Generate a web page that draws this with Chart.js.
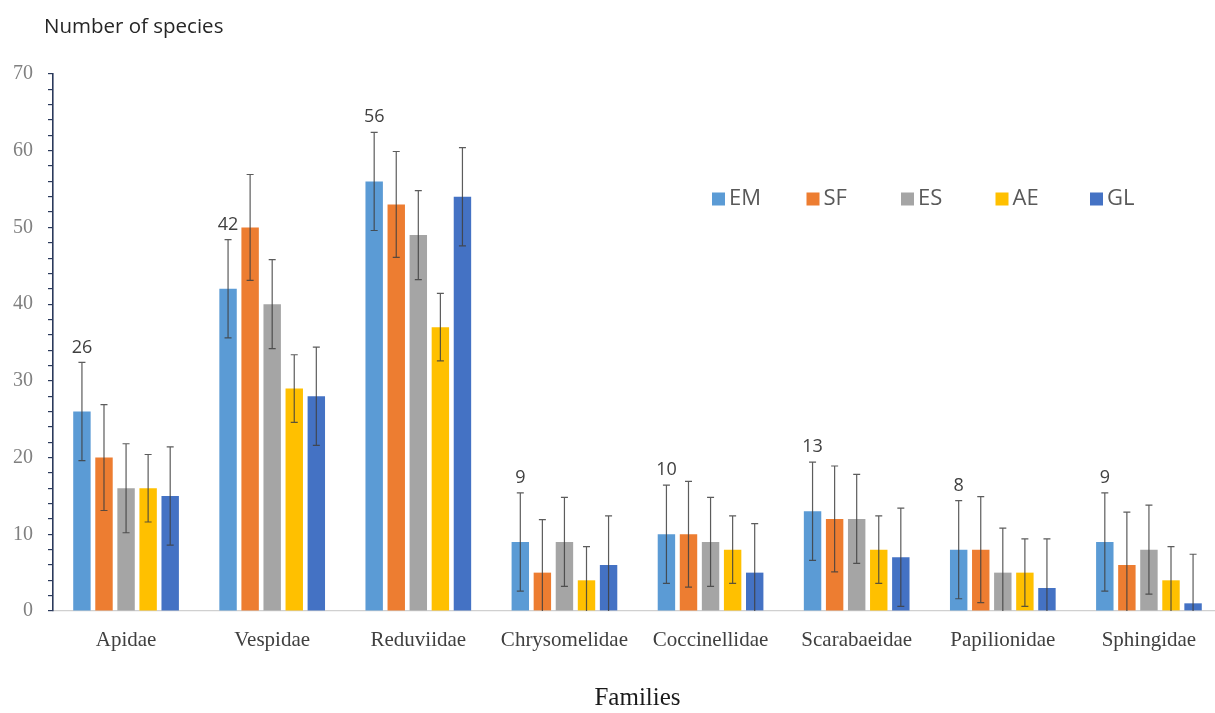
<!DOCTYPE html>
<html>
<head>
<meta charset="utf-8">
<title>Number of species by family</title>
<script src="https://cdn.jsdelivr.net/npm/chart.js@4/dist/chart.umd.min.js"></script>
<style>
  html, body { margin: 0; padding: 0; background: #ffffff; overflow: hidden; }
  #wrap { width: 1222px; height: 713px; position: relative; }
</style>
</head>
<body>
<div id="wrap"><canvas id="chart" width="1222" height="713"></canvas></div>
<script>
// Families on the x axis
const families = ['Apidae', 'Vespidae', 'Reduviidae', 'Chrysomelidae', 'Coccinellidae', 'Scarabaeidae', 'Papilionidae', 'Sphingidae'];

// Species counts per habitat
const emValues = [26, 42, 56, 9, 10, 13, 8, 9];
const sfValues = [20, 50, 53, 5, 10, 12, 8, 6];
const esValues = [16, 40, 49, 9, 9, 12, 5, 8];
const aeValues = [16, 29, 37, 4, 8, 8, 5, 4];
const glValues = [15, 28, 54, 6, 5, 7, 3, 1];

// Error bar half-lengths per habitat
const emErrors = [6.4, 6.4, 6.4, 6.4, 6.4, 6.4, 6.4, 6.4];
const sfErrors = [6.9, 6.9, 6.9, 6.9, 6.9, 6.9, 6.9, 6.9];
const esErrors = [5.8, 5.8, 5.8, 5.8, 5.8, 5.8, 5.8, 5.8];
const aeErrors = [4.4, 4.4, 4.4, 4.4, 4.4, 4.4, 4.4, 4.4];
const glErrors = [6.4, 6.4, 6.4, 6.4, 6.4, 6.4, 6.4, 6.4];

// Y axis range and label step
const yMin = 0;
const yMax = 70;
const yLabelStep = 10;
const yMinorStep = 2;

const SANS = '"Open Sans", "Noto Sans", sans-serif';
const SERIF = '"Liberation Serif", "DejaVu Serif", serif';

const series = [
  { label: 'EM', data: emValues, errors: emErrors, color: '#5B9BD5' },
  { label: 'SF', data: sfValues, errors: sfErrors, color: '#ED7D31' },
  { label: 'ES', data: esValues, errors: esErrors, color: '#A5A5A5' },
  { label: 'AE', data: aeValues, errors: aeErrors, color: '#FFC000' },
  { label: 'GL', data: glValues, errors: glErrors, color: '#4472C4' }
];

// Vertical error bars with caps, drawn from each bar's own position
const errorBars = {
  id: 'errorBars',
  afterDatasetsDraw(chart) {
    const ctx = chart.ctx;
    const y = chart.scales.y;
    const area = chart.chartArea;
    ctx.save();
    ctx.strokeStyle = 'rgba(64,64,64,0.85)';
    ctx.lineWidth = 1.2;
    chart.data.datasets.forEach((ds, di) => {
      const meta = chart.getDatasetMeta(di);
      meta.data.forEach((bar, i) => {
        const v = ds.data[i];
        const e = ds.errors[i];
        const yTop = y.getPixelForValue(v + e);
        const lowVal = v - e;
        const yBot = Math.min(y.getPixelForValue(Math.max(lowVal, yMin)), area.bottom);
        const cap = 3.5;
        ctx.beginPath();
        ctx.moveTo(bar.x, yTop);
        ctx.lineTo(bar.x, yBot);
        ctx.moveTo(bar.x - cap, yTop);
        ctx.lineTo(bar.x + cap, yTop);
        if (lowVal > yMin) {
          ctx.moveTo(bar.x - cap, yBot);
          ctx.lineTo(bar.x + cap, yBot);
        }
        ctx.stroke();
      });
    });
    ctx.restore();
  }
};

// Value labels above the EM bars
const emLabels = {
  id: 'emLabels',
  afterDatasetsDraw(chart) {
    const ctx = chart.ctx;
    const y = chart.scales.y;
    const ds = chart.data.datasets[0];
    const meta = chart.getDatasetMeta(0);
    ctx.save();
    ctx.fillStyle = '#404040';
    ctx.font = '18px ' + SANS;
    ctx.textAlign = 'center';
    ctx.textBaseline = 'middle';
    meta.data.forEach((bar, i) => {
      const v = ds.data[i];
      const py = y.getPixelForValue(v + ds.errors[i]) - 15;
      ctx.fillText(String(v), bar.x, py);
    });
    ctx.restore();
  }
};

// Axis caption above the y axis
const yCaption = {
  id: 'yCaption',
  afterDraw(chart) {
    const ctx = chart.ctx;
    ctx.save();
    ctx.fillStyle = '#262626';
    ctx.font = '20.5px ' + SANS;
    ctx.textAlign = 'left';
    ctx.textBaseline = 'middle';
    ctx.fillText('Number of species', 44, 27);
    ctx.restore();
  }
};

// Legend row inside the plot area
const legendRow = {
  id: 'legendRow',
  afterDraw(chart) {
    const ctx = chart.ctx;
    const startX = 712;
    const stepX = 94.5;
    const cy = 199;
    const box = 13;
    ctx.save();
    ctx.font = '22px ' + SANS;
    ctx.textAlign = 'left';
    ctx.textBaseline = 'middle';
    chart.data.datasets.forEach((ds, i) => {
      const x = startX + i * stepX;
      ctx.fillStyle = ds.backgroundColor;
      ctx.fillRect(x, cy - box / 2, box, box);
      ctx.fillStyle = '#595959';
      ctx.fillText(ds.label, x + 17, cy);
    });
    ctx.restore();
  }
};

new Chart(document.getElementById('chart'), {
  type: 'bar',
  data: {
    labels: families,
    datasets: series.map(s => ({
      label: s.label,
      data: s.data,
      errors: s.errors,
      backgroundColor: s.color,
      borderWidth: 0,
      barPercentage: 0.79,
      categoryPercentage: 0.755
    }))
  },
  options: {
    responsive: false,
    animation: false,
    events: [],
    layout: { padding: { top: 74, left: 0, right: 0, bottom: 0 } },
    plugins: {
      legend: { display: false },
      title: { display: false },
      tooltip: { enabled: false }
    },
    scales: {
      x: {
        afterFit(scale) { scale.height = 102; },
        grid: { display: false, drawTicks: false },
        border: { display: true, color: '#d0d0d0', width: 1.2 },
        ticks: {
          color: '#404040',
          font: { family: SERIF, size: 21 },
          padding: 17,
          maxRotation: 0,
          autoSkip: false
        },
        title: {
          display: true,
          text: 'Families',
          color: '#1a1a1a',
          font: { family: SERIF, size: 25 },
          padding: { top: 0, bottom: 0 }
        }
      },
      y: {
        min: yMin,
        max: yMax,
        afterFit(scale) { scale.width = 53; },
        grid: {
          display: true,
          drawOnChartArea: false,
          drawTicks: true,
          tickLength: 5,
          color: '#2b3a5c',
          lineWidth: 1.2
        },
        border: { display: true, color: '#2b3a5c', width: 1.6 },
        ticks: {
          stepSize: yMinorStep,
          autoSkip: false,
          color: '#808080',
          font: { family: SERIF, size: 20 },
          padding: 15,
          callback(value) {
            return value % yLabelStep === 0 ? String(value) : '';
          }
        }
      }
    }
  },
  plugins: [errorBars, emLabels, yCaption, legendRow]
});
</script>
</body>
</html>
